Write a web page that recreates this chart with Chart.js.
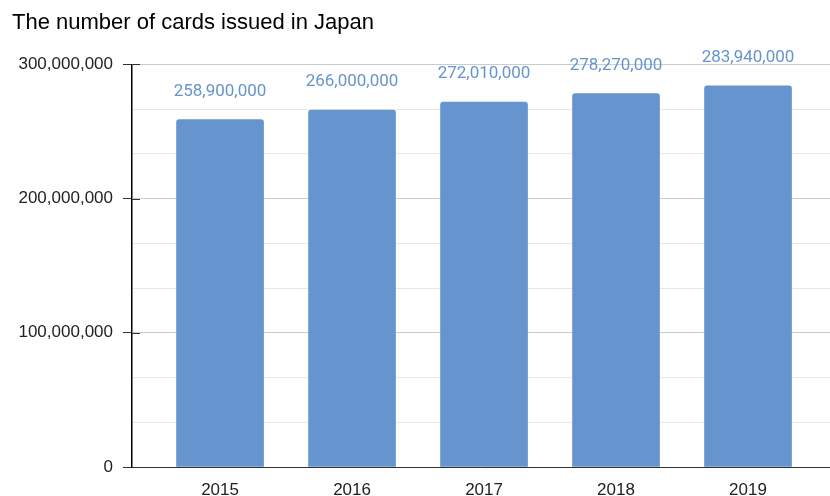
<!DOCTYPE html>
<html>
<head>
<meta charset="utf-8">
<title>Cards issued in Japan</title>
<script src="https://cdn.jsdelivr.net/npm/chart.js@4/dist/chart.umd.min.js"></script>
<style>
  html, body { margin: 0; padding: 0; background: #fff; }
  #wrap { width: 830px; height: 496px; position: relative; }
</style>
</head>
<body>
<div id="wrap"><canvas id="cardsChart"></canvas></div>
<script>
// Yearly totals of cards issued
const years = ['2015', '2016', '2017', '2018', '2019'];
const cardsIssued = [258900000, 266000000, 272010000, 278270000, 283940000];
const yTickValues = [0, 100000000, 200000000, 300000000];

const BAR_COLOR = '#6694cf';
const AXIS_FONT = { family: "'Liberation Sans', Arial, sans-serif", size: 17 };

// Numbers above each bar, taken from the same values the bars use
const valueLabels = {
  id: 'valueLabels',
  afterDatasetsDraw(chart) {
    const { ctx } = chart;
    const meta = chart.getDatasetMeta(0);
    ctx.save();
    ctx.font = "17px Roboto, 'Noto Sans', sans-serif";
    ctx.fillStyle = BAR_COLOR;
    ctx.textAlign = 'center';
    ctx.textBaseline = 'middle';
    meta.data.forEach((bar, i) => {
      ctx.fillText(cardsIssued[i].toLocaleString('en-US'), bar.x, bar.y - 28);
    });
    ctx.restore();
  }
};

// Dark tick stubs that cross the y axis at each major value
const axisStubs = {
  id: 'axisStubs',
  afterDraw(chart) {
    const { ctx } = chart;
    const y = chart.scales.y;
    ctx.save();
    ctx.strokeStyle = '#333';
    ctx.lineWidth = 1;
    yTickValues.forEach(v => {
      const py = Math.round(y.getPixelForValue(v)) + 0.5;
      ctx.beginPath();
      ctx.moveTo(y.right, py);
      ctx.lineTo(y.right + 8, py);
      ctx.stroke();
    });
    ctx.restore();
  }
};

const isMajor = ctx => ctx.index % 3 === 0;

new Chart(document.getElementById('cardsChart'), {
  type: 'bar',
  data: {
    datasets: [{
      label: 'Cards issued',
      data: years.map((_, i) => ({ x: i, y: cardsIssued[i] })),
      backgroundColor: BAR_COLOR,
      borderRadius: 3,
      barThickness: 87
    }]
  },
  options: {
    responsive: true,
    maintainAspectRatio: false,
    animation: false,
    layout: { padding: { left: 12, right: 0, top: 0, bottom: 0 } },
    plugins: {
      legend: { display: false },
      tooltip: { enabled: false },
      title: {
        display: true,
        text: 'The number of cards issued in Japan',
        align: 'start',
        color: '#000',
        font: { family: "'Liberation Sans', Arial, sans-serif", size: 22, weight: 'normal' },
        padding: { top: 10, bottom: 28 }
      }
    },
    scales: {
      x: {
        type: 'linear',
        offset: false,
        min: -0.667,
        max: 4.621,
        afterBuildTicks: axis => { axis.ticks = years.map((_, i) => ({ value: i })); },
        afterFit: scale => { scale.height = 29; },
        grid: { display: false, drawTicks: false },
        border: { color: '#333', width: 1 },
        ticks: {
          color: '#222',
          font: AXIS_FONT,
          padding: 13,
          callback: v => years[v]
        }
      },
      y: {
        min: 0,
        max: 300000000,
        afterBuildTicks: axis => {
          const ticks = [];
          for (let i = 0; i <= 9; i++) ticks.push({ value: i * 100000000 / 3 });
          axis.ticks = ticks;
        },
        afterFit: scale => { scale.width = 120; },
        grid: {
          color: ctx => isMajor(ctx) ? '#cccccc' : '#e8e8e8',
          tickColor: ctx => isMajor(ctx) ? '#333' : 'rgba(0,0,0,0)',
          tickLength: 9
        },
        border: { color: '#000', width: 1.5 },
        ticks: {
          color: '#222',
          font: AXIS_FONT,
          padding: 10,
          callback: (v, i) => i % 3 === 0 ? Math.round(v).toLocaleString('en-US') : ''
        }
      }
    }
  },
  plugins: [valueLabels, axisStubs]
});
</script>
</body>
</html>
